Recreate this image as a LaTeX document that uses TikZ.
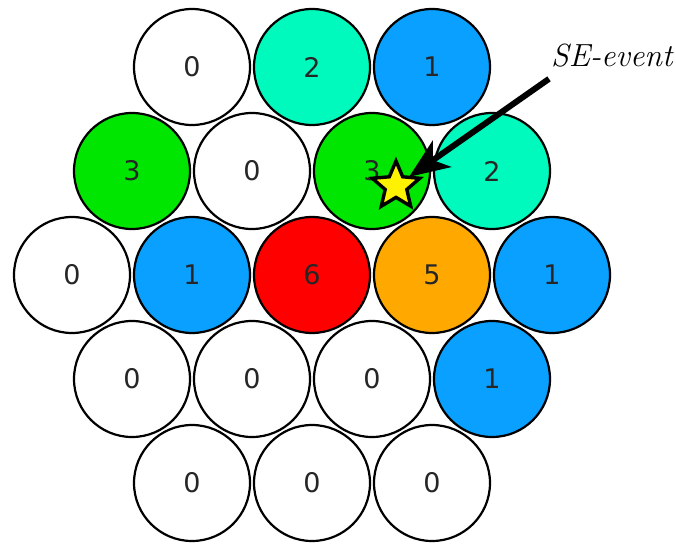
\documentclass[tikz,border=0pt]{standalone}
\usepackage{fontspec}
\newfontfamily\numfont{DejaVu Sans}
\usetikzlibrary{shapes.geometric,arrows.meta}
\definecolor{cellaqua}{RGB}{0,250,190}
\definecolor{cellblue}{RGB}{10,160,255}
\definecolor{cellgreen}{RGB}{0,230,0}
\definecolor{cellred}{RGB}{255,0,0}
\definecolor{cellorange}{RGB}{255,168,0}
\tikzset{
  cell/.style={circle, draw=black, line width=2.2pt, minimum size=116pt,
    inner sep=0pt, font=\numfont\fontsize{27}{27}\selectfont, text=black!85},
  eventstar/.style={star, star points=5, star point ratio=2.2,
    minimum size=50pt, inner sep=0pt, fill=yellow, draw=black, line width=3.4pt},
  pointer/.style={line width=6pt, -{Stealth[length=40pt,width=32pt,inset=11pt]}}
}
\begin{document}
\begin{tikzpicture}[x=1pt,y=-1pt]
\useasboundingbox (0,0) rectangle (676,543);
% row 1
\node[cell, fill=white]      (r1c1) at (192,67) {0};
\node[cell, fill=cellaqua]   (r1c2) at (312,67) {2};
\node[cell, fill=cellblue]   (r1c3) at (432,67) {1};
% row 2
\node[cell, fill=cellgreen]  (r2c1) at (132,171) {3};
\node[cell, fill=white]      (r2c2) at (252,171) {0};
\node[cell, fill=cellgreen]  (r2c3) at (372,171) {3};
\node[cell, fill=cellaqua]   (r2c4) at (492,171) {2};
% row 3
\node[cell, fill=white]      (r3c1) at (72,275) {0};
\node[cell, fill=cellblue]   (r3c2) at (192,275) {1};
\node[cell, fill=cellred]    (r3c3) at (312,275) {6};
\node[cell, fill=cellorange] (r3c4) at (432,275) {5};
\node[cell, fill=cellblue]   (r3c5) at (552,275) {1};
% row 4
\node[cell, fill=white]      (r4c1) at (132,379) {0};
\node[cell, fill=white]      (r4c2) at (252,379) {0};
\node[cell, fill=white]      (r4c3) at (372,379) {0};
\node[cell, fill=cellblue]   (r4c4) at (492,379) {1};
% row 5
\node[cell, fill=white]      (r5c1) at (192,483) {0};
\node[cell, fill=white]      (r5c2) at (312,483) {0};
\node[cell, fill=white]      (r5c3) at (432,483) {0};
% event marker and its label
\node[eventstar] (ev) at (396,186) {};
\node[anchor=base west, inner sep=0pt, font=\fontsize{32}{32}\selectfont\itshape]
  (lbl) at (551,66) {SE-event};
\coordinate (tail) at ([shift={(-2pt,-12pt)}]lbl.south west);
\draw[pointer, shorten >=16pt] (tail) -- (ev.center);
\end{tikzpicture}
\end{document}
